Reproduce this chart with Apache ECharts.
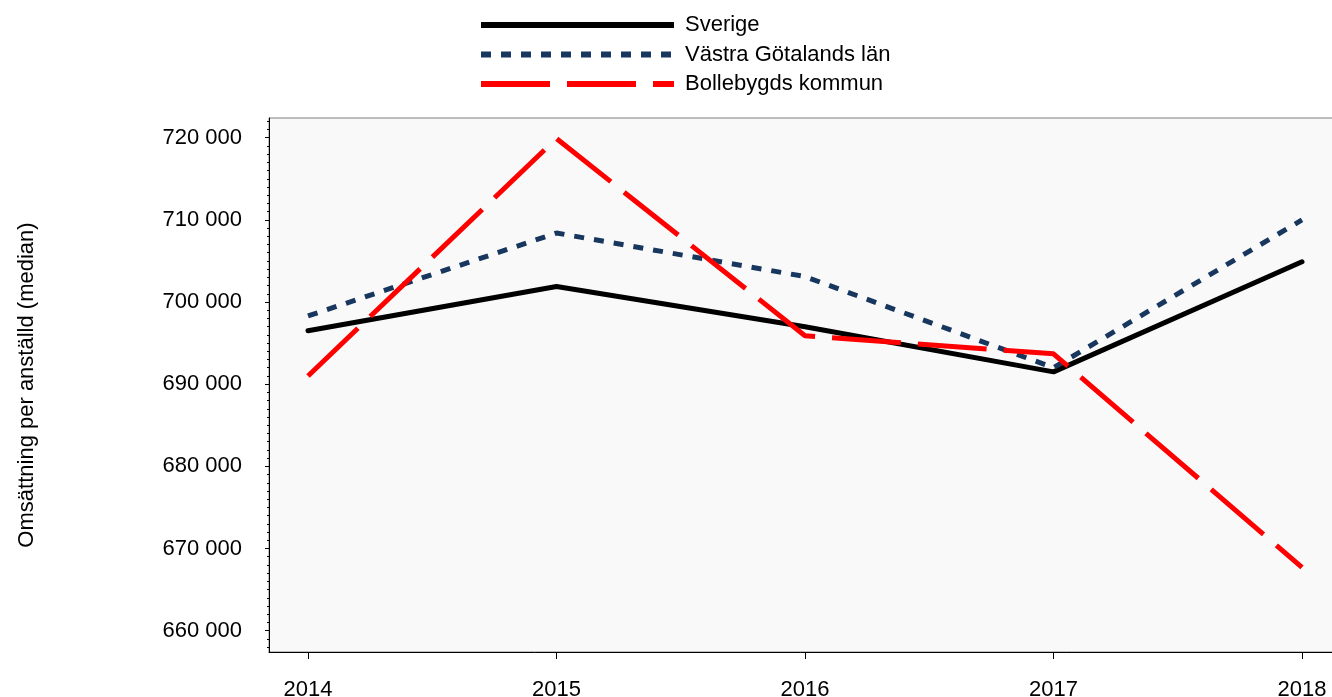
<!DOCTYPE html>
<html>
<head>
<meta charset="utf-8">
<script src="https://cdn.jsdelivr.net/npm/echarts@6/dist/echarts.min.js"></script>
<style>
  html, body { margin: 0; padding: 0; background: #ffffff; }
  #chart { width: 1332px; height: 697px; }
</style>
</head>
<body>
<div id="chart"></div>
<script>
// data
const years = [2014, 2015, 2016, 2017, 2018]
const sverige = [696500, 701900, 697000, 691500, 704900]
const vastraGotaland = [698300, 708400, 703100, 692000, 710000]
const bollebygd = [691000, 719900, 695900, 693700, 667700]
const yTicks = [660000, 670000, 680000, 690000, 700000, 710000, 720000]

const font = '"Liberation Sans", Arial, sans-serif'

// minor ticks every 1000
let yMinor = []
for (let v = 658000; v <= 722000; v += 1000) {
  if (yTicks.indexOf(v) < 0) yMinor.push(v)
}

function pairs(vals) {
  return years.map((y, i) => [y, vals[i]])
}

function fmt(v) {
  return String(v).replace(/\B(?=(\d{3})+(?!\d))/g, ' ')
}

const yMin = 657400
const yMax = 722400

let chart = echarts.init(document.getElementById('chart'))
chart.setOption({
  animation: false,
  legend: {
    orient: 'vertical',
    left: 478,
    top: 14,
    padding: 0,
    itemWidth: 193,
    itemHeight: 14,
    itemGap: 7.5,
    itemStyle: { opacity: 0, borderWidth: 0 },
    lineStyle: { width: 6, cap: 'butt' },
    textStyle: { fontFamily: font, fontSize: 22, color: '#000', padding: [0, 0, 0, 6] },
    data: ['Sverige', 'Västra Götalands län', 'Bollebygds kommun']
  },
  grid: {
    left: 269,
    top: 118,
    width: 1072,
    height: 534,
    outerBoundsMode: 'none',
    containLabel: false,
    show: true,
    backgroundColor: '#f9f9f9',
    borderColor: '#7f7f7f',
    borderWidth: 1
  },
  xAxis: {
    type: 'value',
    min: 2013.843,
    max: 2018.157,
    splitLine: { show: false },
    axisLine: { show: true, onZero: false, lineStyle: { color: '#000', width: 1 } },
    axisTick: { show: true, customValues: years, length: 7, lineStyle: { color: '#000' } },
    axisLabel: {
      customValues: years,
      margin: 27,
      fontFamily: font,
      fontSize: 22,
      color: '#000',
      formatter: v => String(Math.round(v))
    }
  },
  yAxis: [{
    type: 'value',
    min: yMin,
    max: yMax,
    name: 'Omsättning per anställd (median)',
    nameLocation: 'middle',
    nameGap: 231,
    nameTextStyle: { fontFamily: font, fontSize: 22, color: '#000' },
    splitLine: { show: false },
    axisLine: { show: true, lineStyle: { color: '#000', width: 1 } },
    axisTick: { show: true, customValues: yTicks, length: 4, lineStyle: { color: '#000' } },
    axisLabel: {
      customValues: yTicks,
      margin: 27,
      fontFamily: font,
      fontSize: 22,
      color: '#000',
      formatter: v => fmt(v)
    }
  }, {
    type: 'value',
    min: yMin,
    max: yMax,
    position: 'left',
    splitLine: { show: false },
    axisLine: { show: false },
    axisTick: { show: true, customValues: yMinor, length: 2, lineStyle: { color: '#000' } },
    axisLabel: { show: false }
  }],
  series: [{
    name: 'Sverige',
    type: 'line',
    symbol: 'none',
    data: pairs(sverige),
    lineStyle: { color: '#000000', width: 5, cap: 'round' },
    itemStyle: { color: '#000000' }
  }, {
    name: 'Västra Götalands län',
    type: 'line',
    symbol: 'none',
    data: pairs(vastraGotaland),
    lineStyle: { color: '#17375e', width: 5, type: [10, 10] },
    itemStyle: { color: '#17375e' }
  }, {
    name: 'Bollebygds kommun',
    type: 'line',
    symbol: 'none',
    data: pairs(bollebygd),
    lineStyle: { color: '#ff0000', width: 5, type: [69, 17] },
    itemStyle: { color: '#ff0000' }
  }]
})
</script>
</body>
</html>
